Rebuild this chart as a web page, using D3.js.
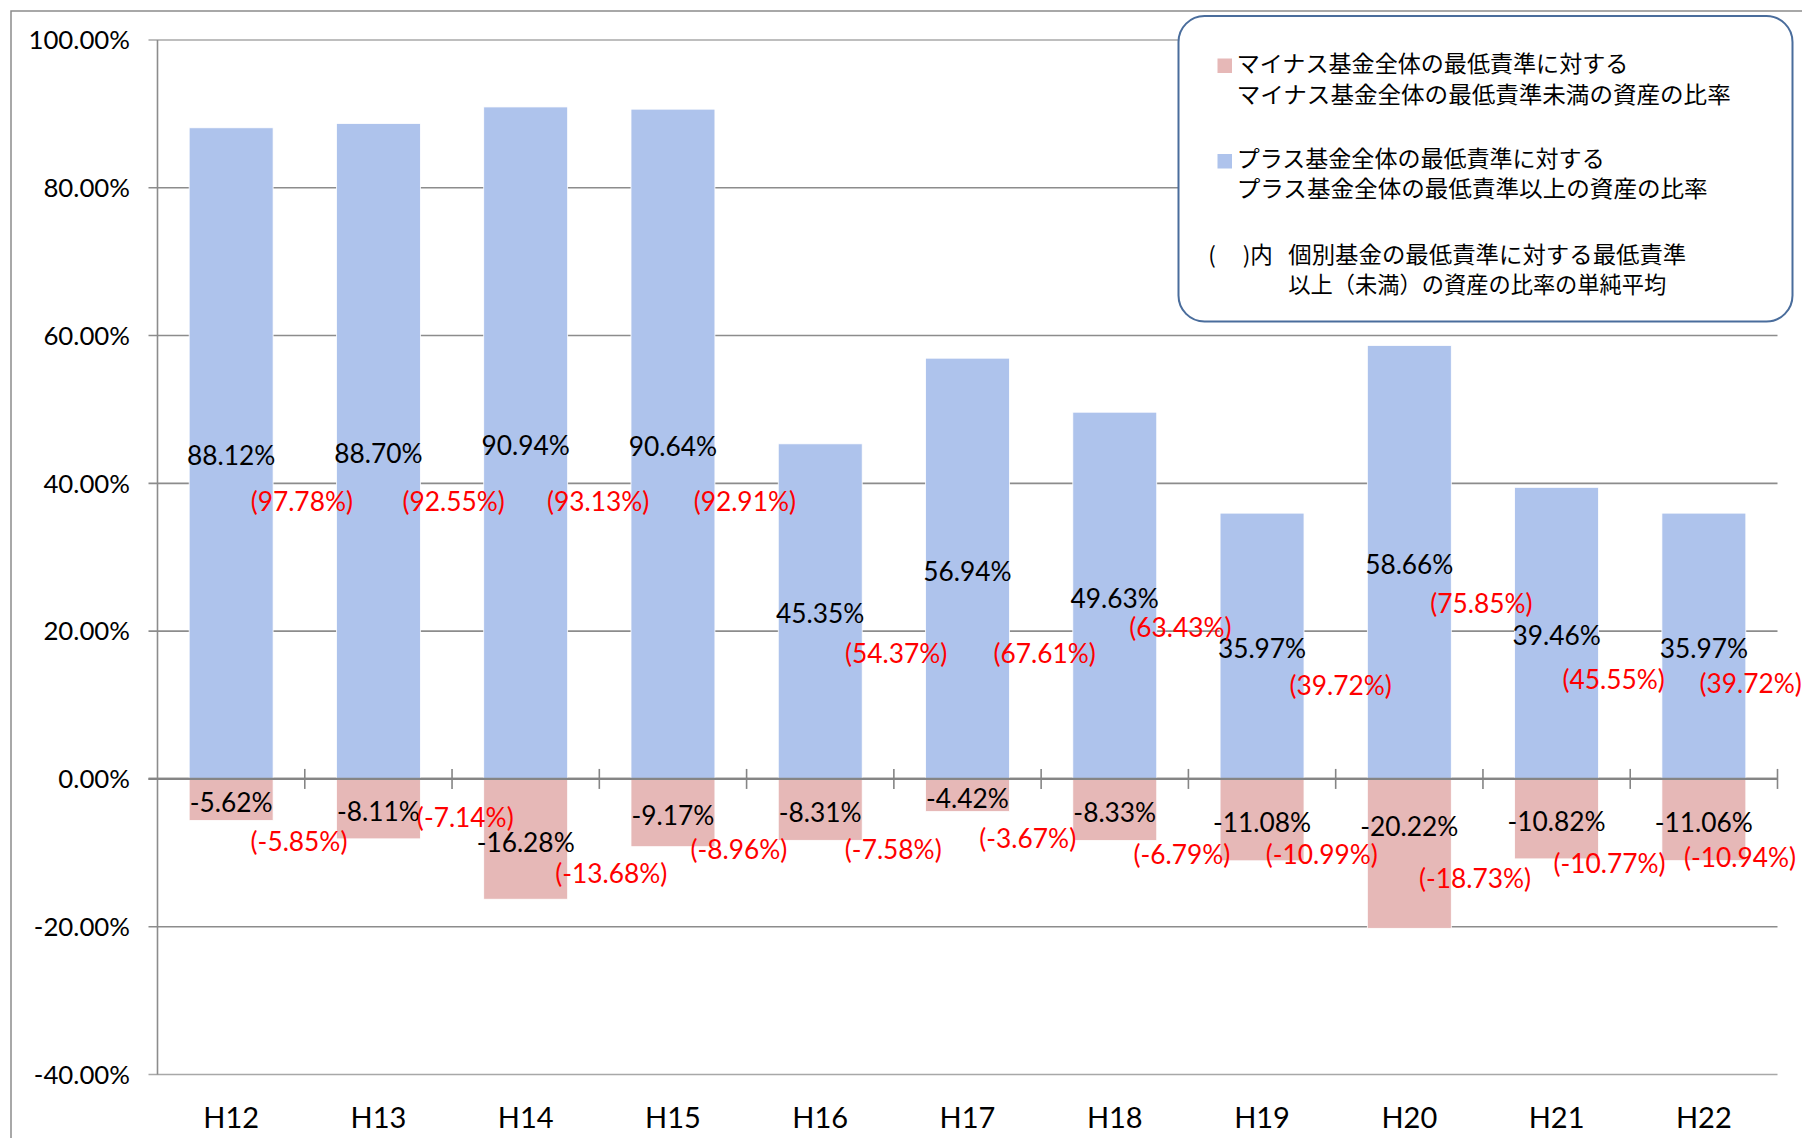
<!DOCTYPE html>
<html><head><meta charset="utf-8">
<script src="https://cdn.jsdelivr.net/npm/d3@7"></script>
<style>body{margin:0;background:#fff;} svg{display:block;}</style>
</head><body>
<svg id="chart" width="1802" height="1138"></svg>
<script>
// ---------- data ----------
const categories = ["H12","H13","H14","H15","H16","H17","H18","H19","H20","H21","H22"];
const plusRatio  = [88.12, 88.70, 90.94, 90.64, 45.35, 56.94, 49.63, 35.97, 58.66, 39.46, 35.97];
const minusRatio = [-5.62, -8.11, -16.28, -9.17, -8.31, -4.42, -8.33, -11.08, -20.22, -10.82, -11.06];
const plusAvg    = [97.78, 92.55, 93.13, 92.91, 54.37, 67.61, 63.43, 39.72, 75.85, 45.55, 39.72];
const minusAvg   = [-5.85, -7.14, -13.68, -8.96, -7.58, -3.67, -6.79, -10.99, -18.73, -10.77, -10.94];
const yTicks = [100, 80, 60, 40, 20, 0, -20, -40];
const legendMinus = ["マイナス基金全体の最低責準に対する", "マイナス基金全体の最低責準未満の資産の比率"];
const legendPlus  = ["プラス基金全体の最低責準に対する", "プラス基金全体の最低責準以上の資産の比率"];
const legendNote  = ["個別基金の最低責準に対する最低責準", "以上（未満）の資産の比率の単純平均"];

// ---------- annotation layout (band-offset fraction, value position) ----------
const plusAvgAnchor  = [[0.48,37.5],[0.511,37.5],[0.492,37.5],[0.488,37.5],[0.516,17.0],[0.524,17.0],[0.446,20.5],[0.534,12.7],[0.49,23.8],[0.388,13.4],[0.318,12.95]];
const minusAvgAnchor = [[0.461,-8.49],[0.59,-5.2],[0.581,-12.76],[0.448,-9.61],[0.496,-9.61],[0.409,-8.12],[0.456,-10.29],[0.405,-10.29],[0.446,-13.44],[0.359,-11.41],[0.245,-10.69]];
const minusLabelOverride = {"H20": -6.06};

// ---------- setup ----------
const svg = d3.select("#chart");
const x = d3.scaleBand().domain(categories).range([157.5, 1777.5]).padding(0);
const y = d3.scaleLinear().domain([-40, 100]).range([1074.5, 40]);
const barW = x.bandwidth() * 0.57;
const cx = c => x(c) + x.bandwidth() / 2;
const pct = v => v.toFixed(2) + "%";
const numFont = "Lato, 'Liberation Sans', sans-serif";
const blue = "#AEC3EC", pink = "#E6B8B7", grid = "#8c8c8c";

// outer chart border
svg.append("path").attr("d", "M11,1140 V11 H1805").attr("fill", "none").attr("stroke", "#8c8c8c").attr("stroke-width", 1.5);

// gridlines + y ticks
svg.append("g").selectAll("line").data(yTicks).join("line")
  .attr("x1", 148.5).attr("x2", 1777.5)
  .attr("y1", d => y(d)).attr("y2", d => y(d))
  .attr("stroke", d => (d === 100 || d === -40) ? "#a8a8a8" : grid)
  .attr("stroke-width", d => d === 0 ? 2.2 : 1.6);

svg.append("g").selectAll("text").data(yTicks).join("text")
  .attr("x", 130).attr("y", d => y(d)).attr("dy", "0.36em")
  .attr("text-anchor", "end").attr("font-family", numFont).attr("font-size", 25.8)
  .attr("fill", "#000").text(d => pct(d));

// bars
svg.append("g").selectAll("rect").data(categories).join("rect")
  .attr("x", c => cx(c) - barW / 2).attr("width", barW)
  .attr("y", (c, i) => y(plusRatio[i])).attr("height", (c, i) => y(0) - y(plusRatio[i]))
  .attr("fill", blue).attr("stroke", "#fff").attr("stroke-width", 0.8);
svg.append("g").selectAll("rect").data(categories).join("rect")
  .attr("x", c => cx(c) - barW / 2).attr("width", barW)
  .attr("y", y(0)).attr("height", (c, i) => y(minusRatio[i]) - y(0))
  .attr("fill", pink).attr("stroke", "#fff").attr("stroke-width", 0.8);

// y axis line and zero axis
svg.append("line").attr("x1", 157.5).attr("x2", 157.5).attr("y1", y(100)).attr("y2", y(-40))
  .attr("stroke", grid).attr("stroke-width", 1.6);
svg.append("line").attr("x1", 148.5).attr("x2", 1777.5).attr("y1", y(0)).attr("y2", y(0))
  .attr("stroke", "#858585").attr("stroke-width", 2.2);
const bounds = categories.map(c => x(c)).concat([x.range()[1]]);
svg.append("g").selectAll("line").data(bounds.slice(1)).join("line")
  .attr("x1", d => d).attr("x2", d => d).attr("y1", y(0) - 10).attr("y2", y(0) + 10)
  .attr("stroke", "#858585").attr("stroke-width", 1.6);

// category labels
svg.append("g").selectAll("text").data(categories).join("text")
  .attr("x", c => cx(c)).attr("y", 1118).attr("dy", "0.36em")
  .attr("text-anchor", "middle").attr("font-family", numFont).attr("font-size", 29)
  .attr("fill", "#000").text(c => c);

// black value labels
const lab = svg.append("g").attr("font-family", numFont).attr("font-size", 26.3).attr("text-anchor", "middle");
lab.selectAll("text.p").data(categories).join("text").attr("class", "p")
  .attr("x", c => cx(c)).attr("y", (c, i) => y(plusRatio[i] / 2) + 2.5).attr("dy", "0.36em")
  .attr("fill", "#000").text((c, i) => pct(plusRatio[i]));
lab.selectAll("text.m").data(categories).join("text").attr("class", "m")
  .attr("x", c => cx(c))
  .attr("y", (c, i) => y(minusLabelOverride[c] !== undefined ? minusLabelOverride[c] : minusRatio[i] / 2) + 3)
  .attr("dy", "0.36em").attr("fill", "#000").text((c, i) => pct(minusRatio[i]));

// red average labels
lab.selectAll("text.pa").data(categories).join("text").attr("class", "pa")
  .attr("x", (c, i) => cx(c) + plusAvgAnchor[i][0] * x.bandwidth())
  .attr("y", (c, i) => y(plusAvgAnchor[i][1])).attr("dy", "0.36em")
  .attr("fill", "#FF0000").text((c, i) => "(" + pct(plusAvg[i]) + ")");
lab.selectAll("text.ma").data(categories).join("text").attr("class", "ma")
  .attr("x", (c, i) => cx(c) + minusAvgAnchor[i][0] * x.bandwidth())
  .attr("y", (c, i) => y(minusAvgAnchor[i][1])).attr("dy", "0.36em")
  .attr("fill", "#FF0000").text((c, i) => "(" + pct(minusAvg[i]) + ")");

// legend
const lg = svg.append("g");
lg.append("rect").attr("x", 1178.5).attr("y", 16).attr("width", 614).attr("height", 305.5).attr("rx", 26)
  .attr("fill", "#fff").attr("stroke", "#4a6d9c").attr("stroke-width", 2);
const jp = "'Noto Sans CJK JP', 'Noto Sans CJK SC', sans-serif";
lg.append("rect").attr("x", 1217.5).attr("y", 58.5).attr("width", 14.5).attr("height", 14.5).attr("fill", pink);
lg.append("rect").attr("x", 1217.5).attr("y", 154).attr("width", 14.5).attr("height", 14.5).attr("fill", blue);
const lgText = (t, xx, yy, w) => {
  const el = lg.append("text").attr("x", xx).attr("y", yy).attr("dominant-baseline", "central")
    .attr("font-family", jp).attr("font-size", 22.5).attr("fill", "#000").text(t);
  if (w) el.attr("textLength", w).attr("lengthAdjust", "spacingAndGlyphs");
  return el;
};
lgText(legendMinus[0], 1236.7, 61.7, 391.7);
lgText(legendMinus[1], 1236.7, 92.7, 494);
lgText(legendPlus[0], 1236.7, 156.7, 368);
lgText(legendPlus[1], 1236.7, 187.3, 471);
lgText("(", 1208.3, 253.3);
lgText(")内", 1242.7, 253.3);
lgText(legendNote[0], 1288.3, 252.8, 398);
lgText(legendNote[1], 1288.3, 283.2, 378);
</script>
</body></html>
